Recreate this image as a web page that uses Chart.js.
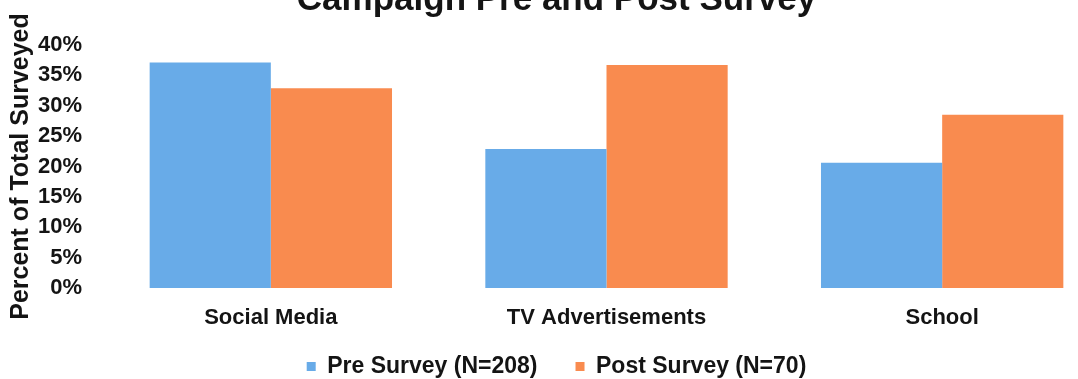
<!DOCTYPE html>
<html>
<head>
<meta charset="utf-8">
<script src="https://cdn.jsdelivr.net/npm/chart.js@4"></script>
<style>
  html, body { margin: 0; padding: 0; background: #fff; overflow: hidden; width: 1078px; height: 379px; }
  #wrap { position: absolute; left: 0; top: -21px; width: 1110px; height: 409px; }
</style>
</head>
<body>
<div id="wrap"><canvas id="surveyChart"></canvas></div>
<script>
// survey data
const categories = ['Social Media', 'TV Advertisements', 'School'];
const preSurvey  = [37.1, 22.9, 20.6];
const postSurvey = [32.9, 36.7, 28.5];
const seriesNames = ['Pre Survey (N=208)', 'Post Survey (N=70)'];
const yTicks = [0, 5, 10, 15, 20, 25, 30, 35, 40];

const FONT = "'Liberation Sans', Arial, sans-serif";
const TEXT = '#141414';

const ctx = document.getElementById('surveyChart').getContext('2d');
new Chart(ctx, {
  type: 'bar',
  data: {
    labels: categories,
    datasets: [
      { label: seriesNames[0], data: preSurvey,  backgroundColor: '#68ABE8' },
      { label: seriesNames[1], data: postSurvey, backgroundColor: '#F98B4F' }
    ]
  },
  options: {
    responsive: true,
    maintainAspectRatio: false,
    animation: false,
    layout: { padding: { left: 3, right: 0, top: 0, bottom: 0 } },
    datasets: {
      bar: { categoryPercentage: 0.722, barPercentage: 1.0, borderWidth: 0 }
    },
    plugins: {
      title: {
        display: true,
        text: 'Campaign Pre and Post Survey',
        color: TEXT,
        font: { family: FONT, size: 35, weight: 'bold' },
        padding: { top: 0, bottom: 24 }
      },
      legend: {
        position: 'bottom',
        labels: {
          color: TEXT,
          font: { family: FONT, size: 23, weight: 'bold' },
          boxWidth: 9,
          boxHeight: 9,
          padding: 38
        }
      },
      tooltip: { enabled: false }
    },
    scales: {
      x: {
        grid: { display: false, drawTicks: false },
        border: { display: false },
        ticks: {
          color: TEXT,
          font: { family: FONT, size: 22, weight: 'bold' },
          padding: 17,
          maxRotation: 0
        },
        afterFit: (scale) => {
          // keep the legend close: labels may hang below the axis box
          scale.height = 29;
          scale.paddingLeft = 0;
          scale.paddingRight = 0;
          scale._computeLabelArea = () => undefined;
        }
      },
      y: {
        min: 0,
        max: 40,
        afterBuildTicks: (scale) => { scale.ticks = yTicks.map(v => ({ value: v })); },
        afterFit: (scale) => { scale.width = 100; },
        grid: { display: false, drawTicks: false },
        border: { display: false },
        ticks: {
          color: TEXT,
          font: { family: FONT, size: 22, weight: 'bold' },
          padding: 21,
          callback: (v) => v + '%'
        },
        title: {
          display: true,
          text: 'Percent of Total Surveyed',
          color: TEXT,
          font: { family: FONT, size: 25, weight: 'bold' },
          padding: 3
        }
      }
    }
  }
});
</script>
</body>
</html>
